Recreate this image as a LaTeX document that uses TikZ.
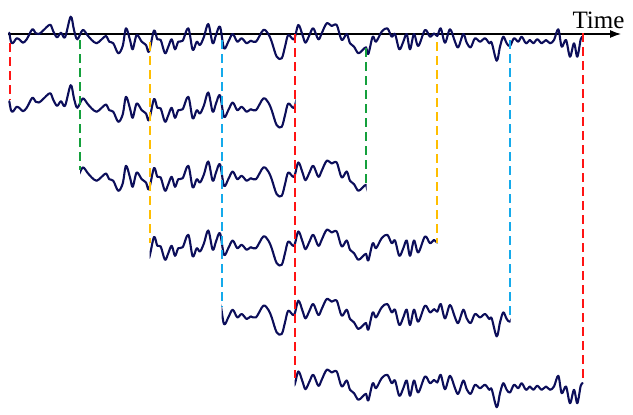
\documentclass[tikz,border=0pt]{standalone}
\usepackage{fontspec}
\setmainfont{Liberation Serif}
\usetikzlibrary{arrows.meta}
\definecolor{navy}{RGB}{12,14,90}
\definecolor{dred}{RGB}{255,20,20}
\definecolor{dgreen}{RGB}{20,160,60}
\definecolor{dyellow}{RGB}{255,190,0}
\definecolor{dblue}{RGB}{20,170,235}
\tikzset{
  wave/.style={draw=navy,line width=2.1pt,line join=round,line cap=round},
  vdash/.style={line width=1.7pt,dash pattern=on 9pt off 5pt},
  axisline/.style={draw=black,line width=1.2pt,-{Latex[length=11pt,width=8pt]}}
}
\newcommand{\mywave}{\draw[wave] plot[smooth,tension=0.55] coordinates {
(9.3,-1.3) (11,7.7) (13,9) (16.7,4.3) (20,6) (23,8.7) (26.7,5.3) (32.3,-4.7) (35.7,-0.7) (39,0) (43,-3.3) (50,-9.3) (53,-3.3) (57,3.3) (61,-1.3) (65,3.3) (70.7,-17.3) (74,-4) (77.3,5.3) (82.7,-4) (87.3,1) (91.7,6) (96.7,9.3) (101.7,5.3) (106,2) (109.3,7.7) (113.3,9.3) (118.3,19.3) (122.7,12) (126,-5.7) (130,6) (132.7,15.3) (136.7,1) (141.7,7.7) (146,11) (149,17.7) (154,-3.5) (157.3,5.3) (160.7,6) (165,19.3) (168.3,12.7) (171.7,5.3) (175,15.3) (178.3,7.7) (182.7,6.7) (188.3,-5.7) (192.7,16) (196.7,7.7) (200,11) (204,2.7) (208.3,-10) (212.7,9.3) (216,1) (220,-7.3) (224,14.3) (228.3,7.7) (232.7,0) (237.3,7.7) (241.7,4.3) (246.7,9.3) (250.7,6.7) (256,7.7) (263.3,-4) (268.3,0) (271.7,7.7) (276.7,22.7) (281.7,24.3) (285,12.7) (288.3,1) (294,5.3) (298.3,-9) (302.5,1) (305.5,8.7) (309.5,1) (313.3,-5.7) (318.3,5.3) (321.7,-0.7) (326.7,-10.7) (331.7,-8) (336.7,-9) (341.7,6) (346.7,0) (350,9.3) (354,12.7) (358.3,19.3) (362.7,16) (366,13.3) (368.3,20) (372.7,2.7) (376,7.7) (381.7,-2.3) (387.3,-5.7) (391.7,2.7) (395,0) (399.3,15.3) (403.3,7.7) (406.7,0) (410,15.3) (414,0) (418.3,12) (425,-4) (430,2.7) (434,-0.7) (437.3,2) (440.7,-5.7) (445,8.7) (450,-4.7) (455,7.7) (458.3,13.3) (463.3,0) (466.7,8.7) (470.7,13.3) (475,4.3) (480,7.7) (485,4.3) (489.3,9.3) (491.7,8.7) (496.7,26.7) (500,12.7) (503.3,2.7) (506.7,9.3) (510,12) (514,4.3) (518.3,7.7) (521.7,2.7) (526,9.3) (530,6) (533.3,9.3) (537.3,5.3) (541.7,9.3) (546,6) (550,9.3) (554,6) (558.3,-4.7) (561.7,12.7) (566,6) (570,22.7) (574,9.3) (577.3,22.7) (580.7,5.3) (582.7,2.7)};}
\newcommand{\waverow}[3]{%
  \begin{scope}
    \clip (#1,0) rectangle (#2,415);
    \begin{scope}[shift={(0,#3)}]\mywave\end{scope}
  \end{scope}}
\begin{document}
\begin{tikzpicture}[x=1pt,y=-1pt]
\useasboundingbox (0,0) rectangle (633,415);
% axis
\coordinate (axstart) at (8.3,34);
\coordinate (axend) at (621,34);
\draw[axisline] (axstart) -- (axend);
\node[anchor=base,inner sep=0pt,font=\fontsize{25}{30}\selectfont] (timelabel) at (598.5,28.3) {Time};
% top signal
\begin{scope}[shift={(0,34)}]\mywave\end{scope}
% windows
\waverow{8}{295.5}{102.5}
\waverow{80}{366.5}{171.5}
\waverow{149.5}{437.5}{240.5}
\waverow{221.5}{510.5}{309.7}
\waverow{294.5}{583.5}{380.5}
% dashed markers
\draw[vdash,dred] (10,43) -- (10,100);
\draw[vdash,dgreen] (80,40) -- (80,170);
\draw[vdash,dyellow] (150,42) -- (150,243);
\draw[vdash,dblue] (222,40) -- (222,307);
\draw[vdash,dred] (295,34) -- (295,378);
\draw[vdash,dgreen] (366,48) -- (366,185);
\draw[vdash,dyellow] (437,42) -- (437,243);
\draw[vdash,dblue] (510,40) -- (510,316);
\draw[vdash,dred] (583,33) -- (583,378);
\end{tikzpicture}
\end{document}
